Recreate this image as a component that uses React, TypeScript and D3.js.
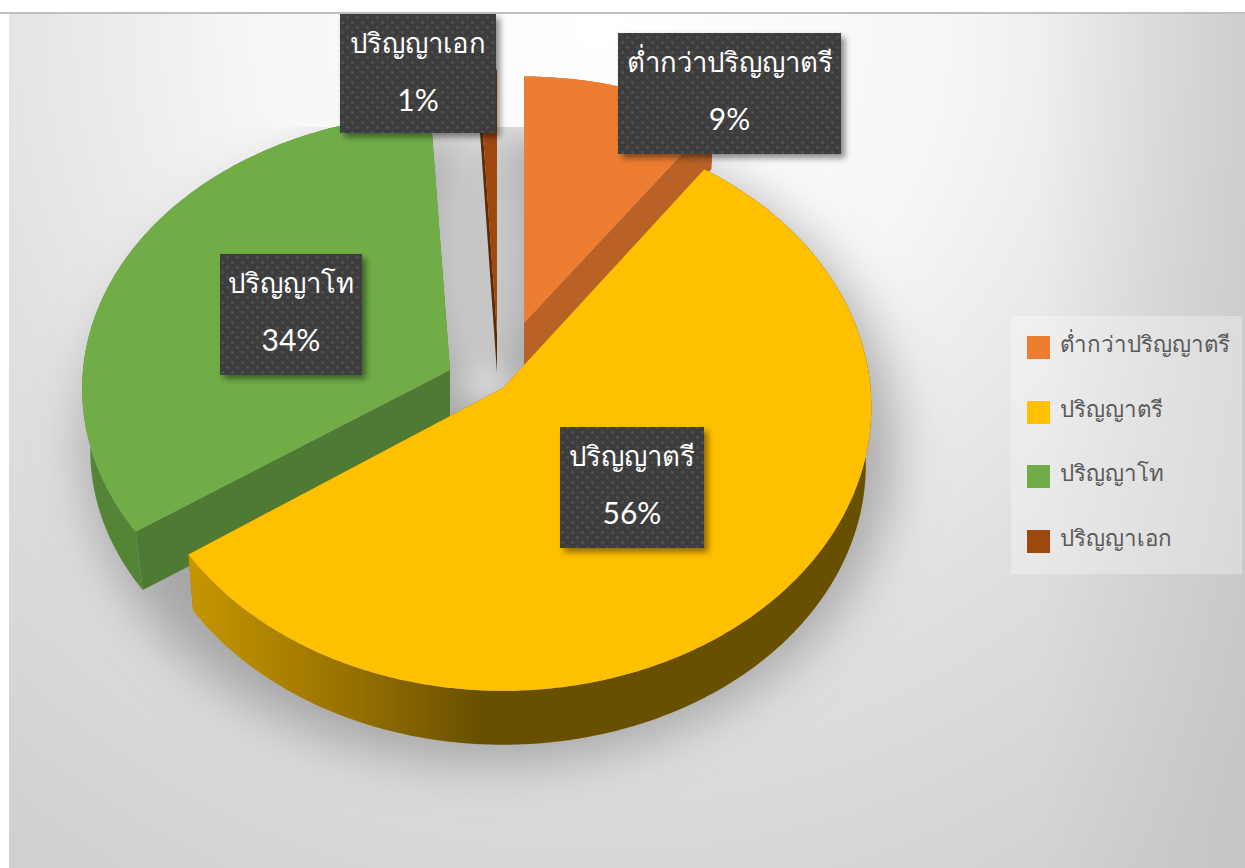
import React from "react";
import * as d3 from "d3";

const categories = ["ต่ำกว่าปริญญาตรี", "ปริญญาตรี", "ปริญญาโท", "ปริญญาเอก"];
const sliceShares = [9.8, 55.6, 33.7, 0.9];
const percentLabels = ["9%", "56%", "34%", "1%"];
const topColors = ["#ED7D31", "#FFC000", "#70AD47", "#9E480E"];

// projected layout of each exploded slice (same order as categories)
const apexX = [524, 503, 450, 497];
const apexY = [323, 388, 370, 333];
const radiusX = [347, 367.5, 367, 350];
const radiusY = [263, 282.5, 274, 281];
const wallDepth = [47, 58.5, 62, 40];
const wallShrink = [0.015, 0.015, 0.022, 0.01];
const perspective = 0.067;
const radialWall = ["#BA6125", "#8a6800", "#4F7A33", "#5C2A06"];
const outerWall = ["#BA6125", "url(#yellowWall)", "#548536", "#6E3209"];
const drawOrder = [0, 3, 2, 1];

const labelBoxes = [
  { x: 618, y: 33, w: 223, h: 121 },
  { x: 560, y: 427, w: 144, h: 121 },
  { x: 220, y: 254, w: 142, h: 121 },
  { x: 340, y: 14, w: 156, h: 119 },
];

const legendY = [336, 401, 465, 530];
const FONT = "Lato, 'Noto Sans', 'Open Sans', sans-serif";

const pieLayout = d3.pie<number>().sort(null).startAngle(0).endAngle(2 * Math.PI);
const arcs = pieLayout(sliceShares);
const line = d3.line<[number, number]>();

function proj(i: number, theta: number, r: number, z: number): [number, number] {
  const u = r * Math.sin(theta);
  const v = r * Math.cos(theta);
  const w = 1 + perspective * v;
  const s = 1 - wallShrink[i] * z;
  return [
    apexX[i] + (radiusX[i] * u * s) / w,
    apexY[i] - (radiusY[i] * v * s) / w + wallDepth[i] * z,
  ];
}

function rim(i: number, z: number): [number, number][] {
  const a = arcs[i];
  const n = Math.max(2, Math.ceil((a.endAngle - a.startAngle) / 0.01));
  return d3.range(n + 1).map((k) =>
    proj(i, a.startAngle + ((a.endAngle - a.startAngle) * k) / n, 1, z)
  );
}

function closed(pts: [number, number][]) {
  return line(pts)! + "Z";
}

function Slice({ i }: { i: number }) {
  const top = rim(i, 0);
  const bottom = rim(i, 1);
  const c0 = proj(i, 0, 0, 0);
  const c1 = proj(i, 0, 0, 1);
  const startWall = closed([c0, top[0], bottom[0], c1]);
  const endWall = closed([c0, top[top.length - 1], bottom[bottom.length - 1], c1]);
  const outer = closed([...top, ...bottom.slice().reverse()]);
  return (
    <g>
      <path d={startWall} fill={radialWall[i]} />
      <path d={endWall} fill={radialWall[i]} />
      <path d={outer} fill={outerWall[i]} />
      <path d={closed([c0, ...top])} fill={topColors[i]} />
    </g>
  );
}

export default function App() {
  return (
    <svg
      width={1245}
      height={868}
      style={{ position: "absolute", left: 0, top: 0, display: "block" }}
      fontFamily={FONT}
    >
      <defs>
        <radialGradient id="bg" gradientUnits="userSpaceOnUse" cx={600} cy={30} r={1000}>
          <stop offset="0" stopColor="#ffffff" />
          <stop offset="0.35" stopColor="#f6f6f6" />
          <stop offset="0.65" stopColor="#e0e0e0" />
          <stop offset="1" stopColor="#d0d0d0" />
        </radialGradient>
        <linearGradient id="rightEdge" gradientUnits="userSpaceOnUse" x1={1040} y1={0} x2={1245} y2={0}>
          <stop offset="0" stopColor="#b8b8b8" stopOpacity={0} />
          <stop offset="1" stopColor="#b8b8b8" stopOpacity={0.45} />
        </linearGradient>
        <linearGradient id="yellowWall" gradientUnits="userSpaceOnUse" x1={190} y1={0} x2={480} y2={0}>
          <stop offset="0" stopColor="#C69600" />
          <stop offset="0.5" stopColor="#9C7500" />
          <stop offset="1" stopColor="#695000" />
        </linearGradient>
        <filter id="blurShadow" x="-30%" y="-30%" width="160%" height="160%">
          <feGaussianBlur stdDeviation={26} />
        </filter>
        <filter id="blurGlow" x="-100%" y="-100%" width="300%" height="300%">
          <feGaussianBlur stdDeviation={14} />
        </filter>
        <filter id="boxShadow" x="-10%" y="-10%" width="125%" height="125%">
          <feDropShadow dx={4} dy={4} stdDeviation={3} floodColor="#000" floodOpacity={0.45} />
        </filter>
        <clipPath id="shadowClip">
          <rect x={9} y={127} width={1236} height={741} />
        </clipPath>
        <pattern id="dots" patternUnits="userSpaceOnUse" width={10} height={10}>
          <rect width={10} height={10} fill="#3E3E3E" />
          <circle cx={2.5} cy={2.5} r={1.4} fill="#525252" />
          <circle cx={7.5} cy={7.5} r={1.4} fill="#525252" />
        </pattern>
      </defs>

      <rect width={1245} height={868} fill="#fff" />
      <rect x={9} y={13} width={1236} height={855} fill="url(#bg)" />
      <rect x={9} y={13} width={1236} height={855} fill="url(#rightEdge)" />
      <rect x={0} y={12} width={1245} height={2} fill="#BFBFBF" />

      <g clipPath="url(#shadowClip)">
        <ellipse cx={490} cy={445} rx={405} ry={318} fill="#8c8c8c" fillOpacity={0.68} filter="url(#blurShadow)" />
        <ellipse cx={480} cy={250} rx={45} ry={130} fill="#ffffff" fillOpacity={0.3} filter="url(#blurGlow)" />
        <ellipse cx={487} cy={385} rx={28} ry={18} fill="#ececec" fillOpacity={0.7} filter="url(#blurGlow)" />
      </g>

      {drawOrder.map((i) => (
        <Slice key={i} i={i} />
      ))}

      {labelBoxes.map((b, i) => (
        <g key={i}>
          <rect x={b.x} y={b.y} width={b.w} height={b.h} fill="url(#dots)" filter="url(#boxShadow)" />
          <text x={b.x + b.w / 2} y={b.y + 39} textAnchor="middle" fontSize={27.5} fill="#fff">
            {categories[i]}
          </text>
          <text x={b.x + b.w / 2} y={b.y + 97} textAnchor="middle" fontSize={30} fill="#fff">
            {percentLabels[i]}
          </text>
        </g>
      ))}

      <rect x={1011} y={316} width={231} height={258} fill="#ffffff" fillOpacity={0.3} />
      {categories.map((c, i) => (
        <g key={c}>
          <rect x={1027} y={legendY[i]} width={23} height={23} fill={topColors[i]} />
          <text x={1060} y={legendY[i] + 16} fontSize={22.3} fill="#595959">
            {c}
          </text>
        </g>
      ))}
    </svg>
  );
}
